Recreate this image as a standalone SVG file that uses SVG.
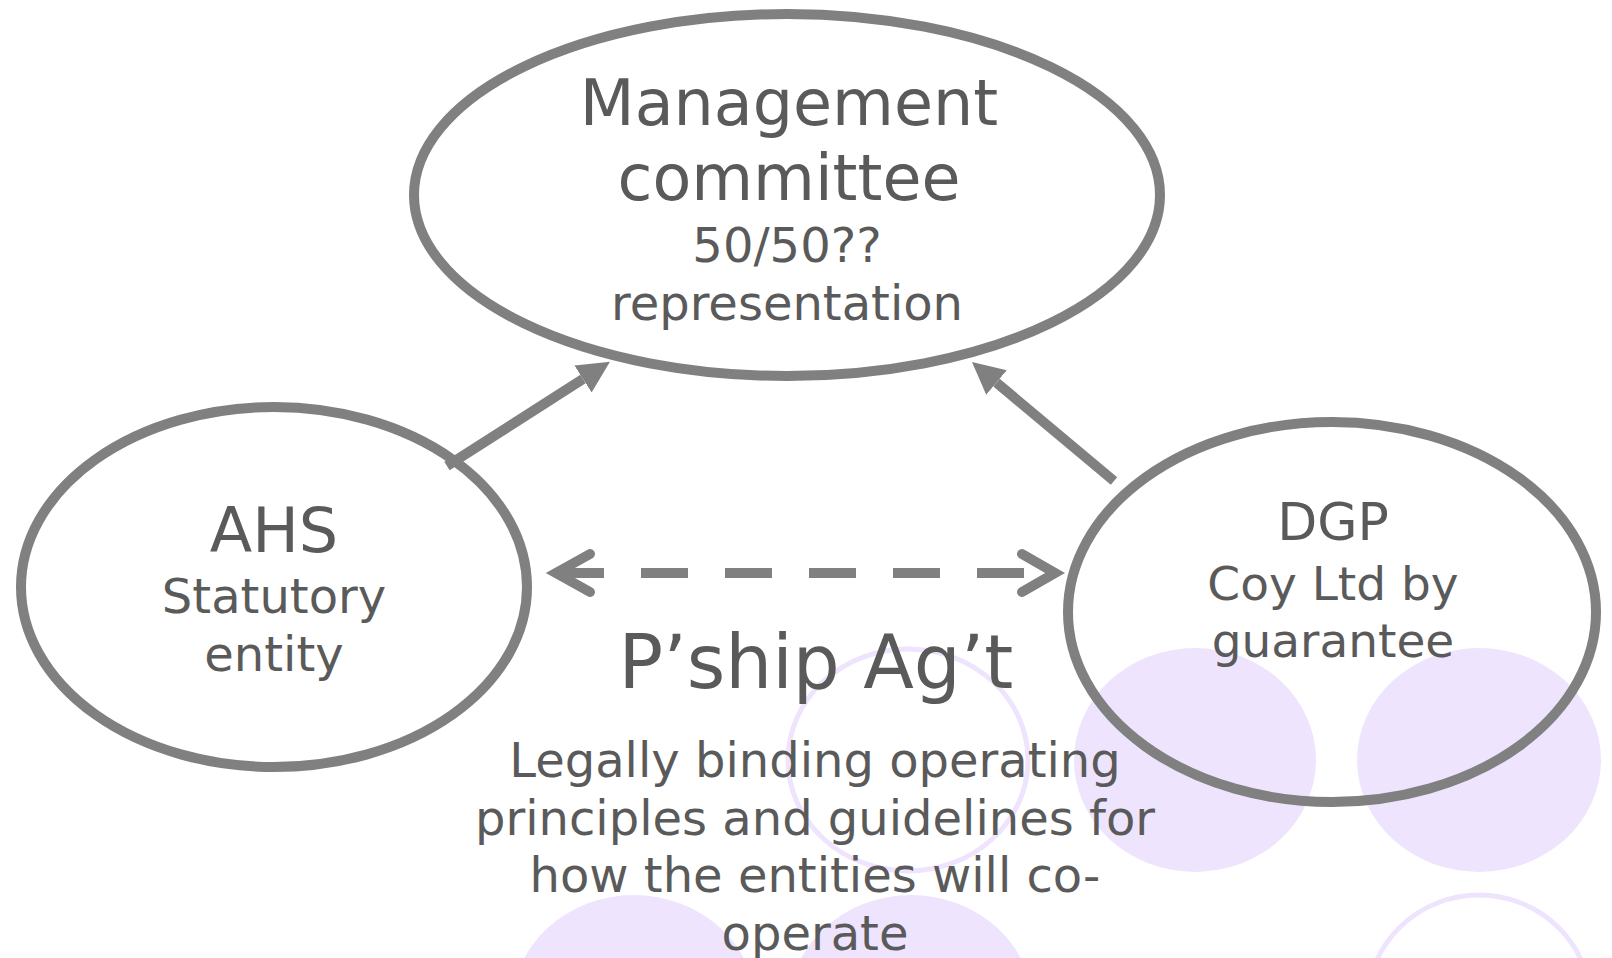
<svg xmlns="http://www.w3.org/2000/svg" width="1612" height="958" viewBox="0 0 1612 958">
<style>
  .bgf { fill: #EFE4FE; stroke: none; }
  .bgo { fill: none; stroke: #EFE4FE; stroke-width: 5; }
  .node { fill: none; stroke: #808080; stroke-width: 10; }
  .t { font-family: "DejaVu Sans", Verdana, sans-serif; fill: #5A5A5A; text-anchor: middle; }
  .conn { stroke: #808080; stroke-width: 10; fill: none; }
  .dash { stroke-dasharray: 47 37; }
  .chev { stroke-linecap: round; stroke-linejoin: miter; stroke-miterlimit: 10; }
</style>
<defs>
  <marker id="head" markerUnits="userSpaceOnUse" markerWidth="34" markerHeight="34" refX="0" refY="16" orient="auto" viewBox="0 0 34 34">
    <path d="M0,0 L32,16 L0,32 Z" fill="#808080"/>
  </marker>
</defs>
<rect width="1612" height="958" fill="#FFFFFF"/>
<g id="background">
  <ellipse class="bgo" cx="908" cy="760" rx="120" ry="111"/>
  <ellipse class="bgf" cx="1195" cy="760" rx="121" ry="112"/>
  <ellipse class="bgf" cx="1479" cy="760" rx="122" ry="112"/>
  <ellipse class="bgf" cx="634" cy="1007" rx="122" ry="112"/>
  <ellipse class="bgf" cx="911" cy="1007" rx="122" ry="112"/>
  <ellipse class="bgo" cx="1479" cy="1005" rx="112" ry="110"/>
</g>
<g id="management">
  <ellipse class="node" cx="787" cy="195" rx="373" ry="181"/>
  <text class="t" x="789" y="125" font-size="63.5">Management</text>
  <text class="t" x="789" y="200" font-size="63.5">committee</text>
  <text class="t" x="787" y="262" font-size="48">50/50??</text>
  <text class="t" x="787" y="320" font-size="48">representation</text>
</g>
<g id="ahs">
  <ellipse class="node" cx="274" cy="587" rx="253" ry="180"/>
  <text class="t" x="274" y="552" font-size="62">AHS</text>
  <text class="t" x="274" y="613" font-size="48">Statutory</text>
  <text class="t" x="274" y="671" font-size="48">entity</text>
</g>
<g id="dgp">
  <ellipse class="node" cx="1332" cy="612" rx="264" ry="190"/>
  <text class="t" x="1333" y="540" font-size="52">DGP</text>
  <text class="t" x="1333" y="600" font-size="47">Coy Ltd by</text>
  <text class="t" x="1333" y="657" font-size="47">guarantee</text>
</g>
<g id="connectors">
  <line class="conn" x1="447" y1="466" x2="583" y2="379" marker-end="url(#head)"/>
  <line class="conn" x1="1114" y1="481" x2="996.5" y2="382.6" marker-end="url(#head)"/>
  <line class="conn dash" x1="557" y1="573" x2="1061" y2="573"/>
  <polyline class="conn chev" points="590,554 556,573 590,592"/>
  <polyline class="conn chev" points="1022,554 1055,573 1022,592"/>
  <g id="agreement-label">
    <text class="t" x="816" y="688" font-size="74">P’ship Ag’t</text>
    <text class="t" x="815" y="777" font-size="48">Legally binding operating</text>
    <text class="t" x="815" y="834.5" font-size="48">principles and guidelines for</text>
    <text class="t" x="815" y="892" font-size="48">how the entities will co-</text>
    <text class="t" x="815" y="950" font-size="48">operate</text>
  </g>
</g>
</svg>
